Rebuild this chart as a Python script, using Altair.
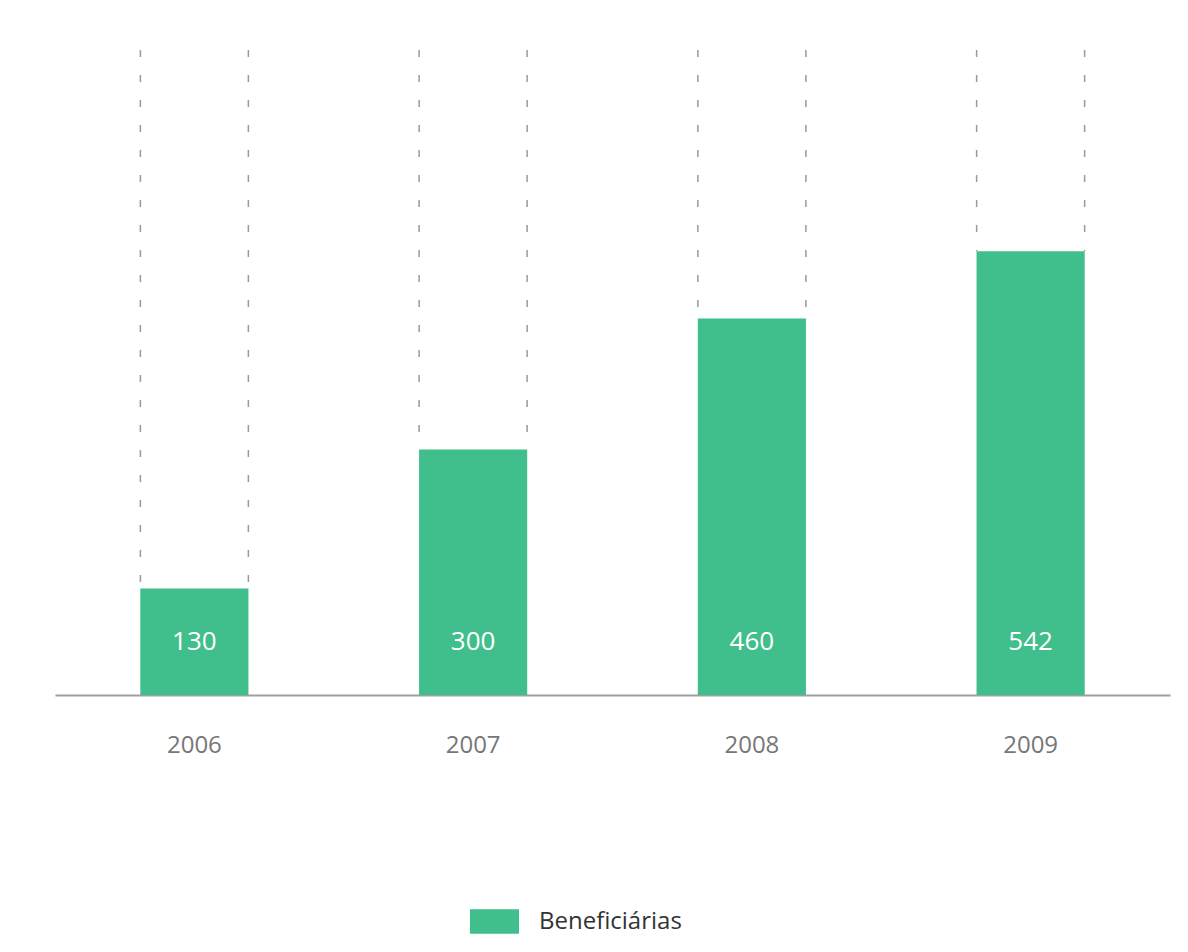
import altair as alt

years = ["2006", "2007", "2008", "2009"]
values = [130, 300, 460, 542]
series_name = "Beneficiárias"
bar_color = "#40BE8B"
y_max = 788

records = [
    {"year": y, "value": v, "series": series_name, "top": y_max, "zero": 0}
    for y, v in zip(years, values)
]
data = alt.Data(values=records)

base = alt.Chart(data)

x_axis = alt.Axis(title="", domainColor="#a0a0a0", domainWidth=2, ticks=False, grid=False,
                  labelFontSize=24, labelColor="#777777", labelPadding=38,
                  labelFont="Open Sans", labelAngle=0)
y_axis = alt.Axis(title="", labels=False, ticks=False, domain=False, grid=False)
y_scale = alt.Scale(domain=[0, y_max])

bars = base.mark_bar().encode(
    x=alt.X("year:N", axis=x_axis, scale=alt.Scale(paddingInner=0.612, paddingOuter=0.306)),
    y=alt.Y("value:Q", scale=y_scale, axis=y_axis),
    color=alt.Color("series:N", scale=alt.Scale(domain=[series_name], range=[bar_color]),
                    legend=alt.Legend(title="", orient="none", legendX=415, legendY=847,
                                      symbolType="M-1,-0.5L1,-0.5L1,0.5L-1,0.5Z", symbolSize=2401,
                                      symbolStrokeWidth=0, labelFontSize=24, labelColor="#333333",
                                      labelFont="Open Sans", labelOffset=20)),
)

dash_l = base.mark_rule(color="#9a9a9a", strokeWidth=1.5, strokeDash=[7, 18], xOffset=-54).encode(
    x=alt.X("year:N", axis=x_axis),
    y=alt.Y("top:Q", scale=y_scale, axis=y_axis),
    y2=alt.Y2("value"),
)
dash_r = base.mark_rule(color="#9a9a9a", strokeWidth=1.5, strokeDash=[7, 18], xOffset=54).encode(
    x=alt.X("year:N", axis=x_axis),
    y=alt.Y("top:Q", scale=y_scale, axis=y_axis),
    y2=alt.Y2("value"),
)

labels = base.mark_text(color="white", fontSize=26, font="Open Sans", baseline="middle", dy=-53).encode(
    x=alt.X("year:N", axis=x_axis),
    y=alt.Y("zero:Q", scale=y_scale, axis=y_axis),
    text="value:Q",
)

chart = alt.layer(dash_l, dash_r, bars, labels).properties(
    width=1115, height=645,
    autosize=alt.AutoSizeParams(type="none"),
    padding={"left": 55, "top": 50, "right": 18, "bottom": 257},
    background="white",
).configure_view(strokeWidth=0)

chart.save("out.html", embed_options={"renderer": "svg", "actions": False})
